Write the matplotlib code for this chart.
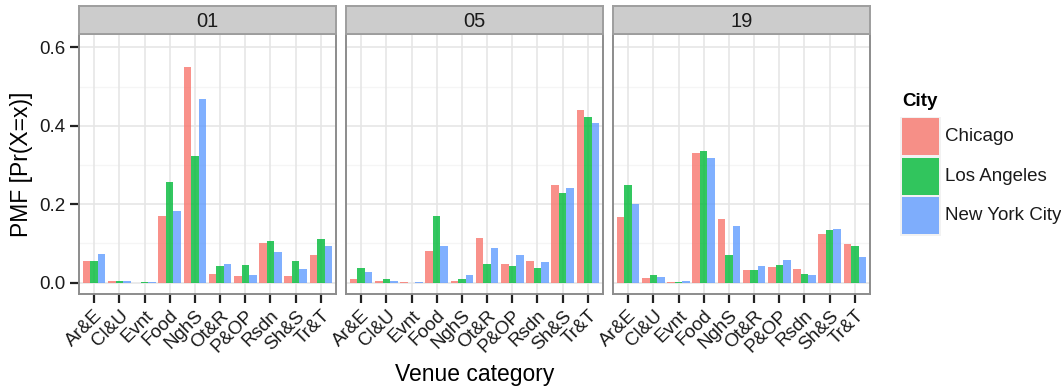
import numpy as np
import matplotlib.pyplot as plt
from matplotlib.patches import Rectangle

plt.rcParams.update({'font.family': 'Liberation Sans'})

categories = ['Ar&E', 'Cl&U', 'Evnt', 'Food', 'NghS', 'Ot&R', 'P&OP', 'Rsdn', 'Sh&S', 'Tr&T']
cities = ['Chicago', 'Los Angeles', 'New York City']
panels = ['01', '05', '19']
colors = ['#F8766D', '#00BA38', '#619CFF']

# PMF per panel, one list per city (Chicago, Los Angeles, New York City)
pmf_01 = [
    [0.055, 0.004, 0.000, 0.170, 0.549, 0.021, 0.016, 0.101, 0.016, 0.070],
    [0.056, 0.003, 0.002, 0.257, 0.322, 0.042, 0.046, 0.107, 0.054, 0.112],
    [0.073, 0.003, 0.001, 0.182, 0.468, 0.048, 0.020, 0.077, 0.035, 0.093],
]
pmf_05 = [
    [0.010, 0.004, 0.002, 0.081, 0.005, 0.113, 0.048, 0.054, 0.249, 0.439],
    [0.037, 0.010, 0.000, 0.169, 0.008, 0.048, 0.043, 0.038, 0.229, 0.423],
    [0.026, 0.003, 0.001, 0.094, 0.020, 0.088, 0.071, 0.053, 0.242, 0.407],
]
pmf_19 = [
    [0.167, 0.013, 0.001, 0.330, 0.161, 0.031, 0.041, 0.034, 0.123, 0.099],
    [0.249, 0.019, 0.002, 0.336, 0.071, 0.032, 0.046, 0.021, 0.134, 0.094],
    [0.200, 0.015, 0.003, 0.319, 0.145, 0.043, 0.058, 0.020, 0.137, 0.065],
]
data = [pmf_01, pmf_05, pmf_19]

W, H = 1061, 391
fig = plt.figure(figsize=(W / 100, H / 100), dpi=100)

def box(x0, y0, x1, y1):
    # pixel box (top-left origin) -> figure fraction rect
    return [x0 / W, 1 - y1 / H, (x1 - x0) / W, (y1 - y0) / H]

lefts = [79, 346, 613]
pw = 257
top, bottom = 34, 294
x = np.arange(len(categories))
width = 0.3

for i, (lab, vals) in enumerate(zip(panels, data)):
    ax = fig.add_axes(box(lefts[i], top, lefts[i] + pw, bottom))
    ax.set_facecolor('white')
    for yv in [0.1, 0.3, 0.5]:
        ax.axhline(yv, color='#F5F5F5', lw=1.0, zorder=0)
    for yv in [0.0, 0.2, 0.4, 0.6]:
        ax.axhline(yv, color='#E6E6E6', lw=1.2, zorder=0)
    for xv in x:
        ax.axvline(xv, color='#E6E6E6', lw=1.2, zorder=0)
    for j, city in enumerate(cities):
        ax.bar(x + (j - 1) * width, vals[j], width, color=colors[j], alpha=0.8,
               linewidth=0, zorder=2)
    ax.set_xlim(-0.6, 9.6)
    ax.set_ylim(-0.029, 0.634)
    ax.set_xticks(x)
    ax.set_xticklabels(categories, rotation=45, ha='right', va='top',
                       rotation_mode='anchor', fontsize=13.5, color='#1a1a1a')
    ax.set_yticks([0.0, 0.2, 0.4, 0.6])
    if i == 0:
        ax.set_yticklabels(['0.0', '0.2', '0.4', '0.6'], fontsize=13.5, color='#1a1a1a')
        ax.set_ylabel('PMF [Pr(X=x)]', fontsize=16.5, labelpad=5)
    ax.tick_params(axis='both', direction='out', length=6.5, width=1.6, color='#222222', pad=3)
    if i > 0:
        ax.tick_params(axis='y', length=0, labelleft=False)
    for sp in ax.spines.values():
        sp.set_color('#8c8c8c')
        sp.set_linewidth(1.4)

    # facet strip
    sax = fig.add_axes(box(lefts[i], 6, lefts[i] + pw, top))
    sax.set_facecolor('#CCCCCC')
    sax.set_xticks([])
    sax.set_yticks([])
    for sp in sax.spines.values():
        sp.set_color('#9e9e9e')
        sp.set_linewidth(1.4)
    sax.text(0.5, 0.45, lab, ha='center', va='center', fontsize=14.5, color='#1a1a1a',
             transform=sax.transAxes)

fig.text((lefts[0] + lefts[2] + pw) / 2 / W, 1 - 375 / H, 'Venue category',
         ha='center', va='center', fontsize=16.5)

# legend
fig.text(902 / W, 1 - 102 / H, 'City', ha='left', va='center', fontsize=13.5,
         fontweight='bold')
key_h = 39.5
for j, city in enumerate(cities):
    y0 = 117 + j * key_h
    lax = fig.add_axes(box(900, y0, 941, y0 + key_h))
    lax.set_xlim(0, 1)
    lax.set_ylim(0, 1)
    lax.axis('off')
    lax.add_patch(Rectangle((0, 0), 1, 1, facecolor='#F2F2F2', edgecolor='none'))
    lax.add_patch(Rectangle((0.04, 0.03), 0.92, 0.94, facecolor=colors[j], alpha=0.8,
                            edgecolor='none'))
    fig.text(945 / W, 1 - (y0 + key_h / 2) / H, city, ha='left', va='center',
             fontsize=13.5, color='#1a1a1a')

plt.savefig('out.png', dpi=100)
